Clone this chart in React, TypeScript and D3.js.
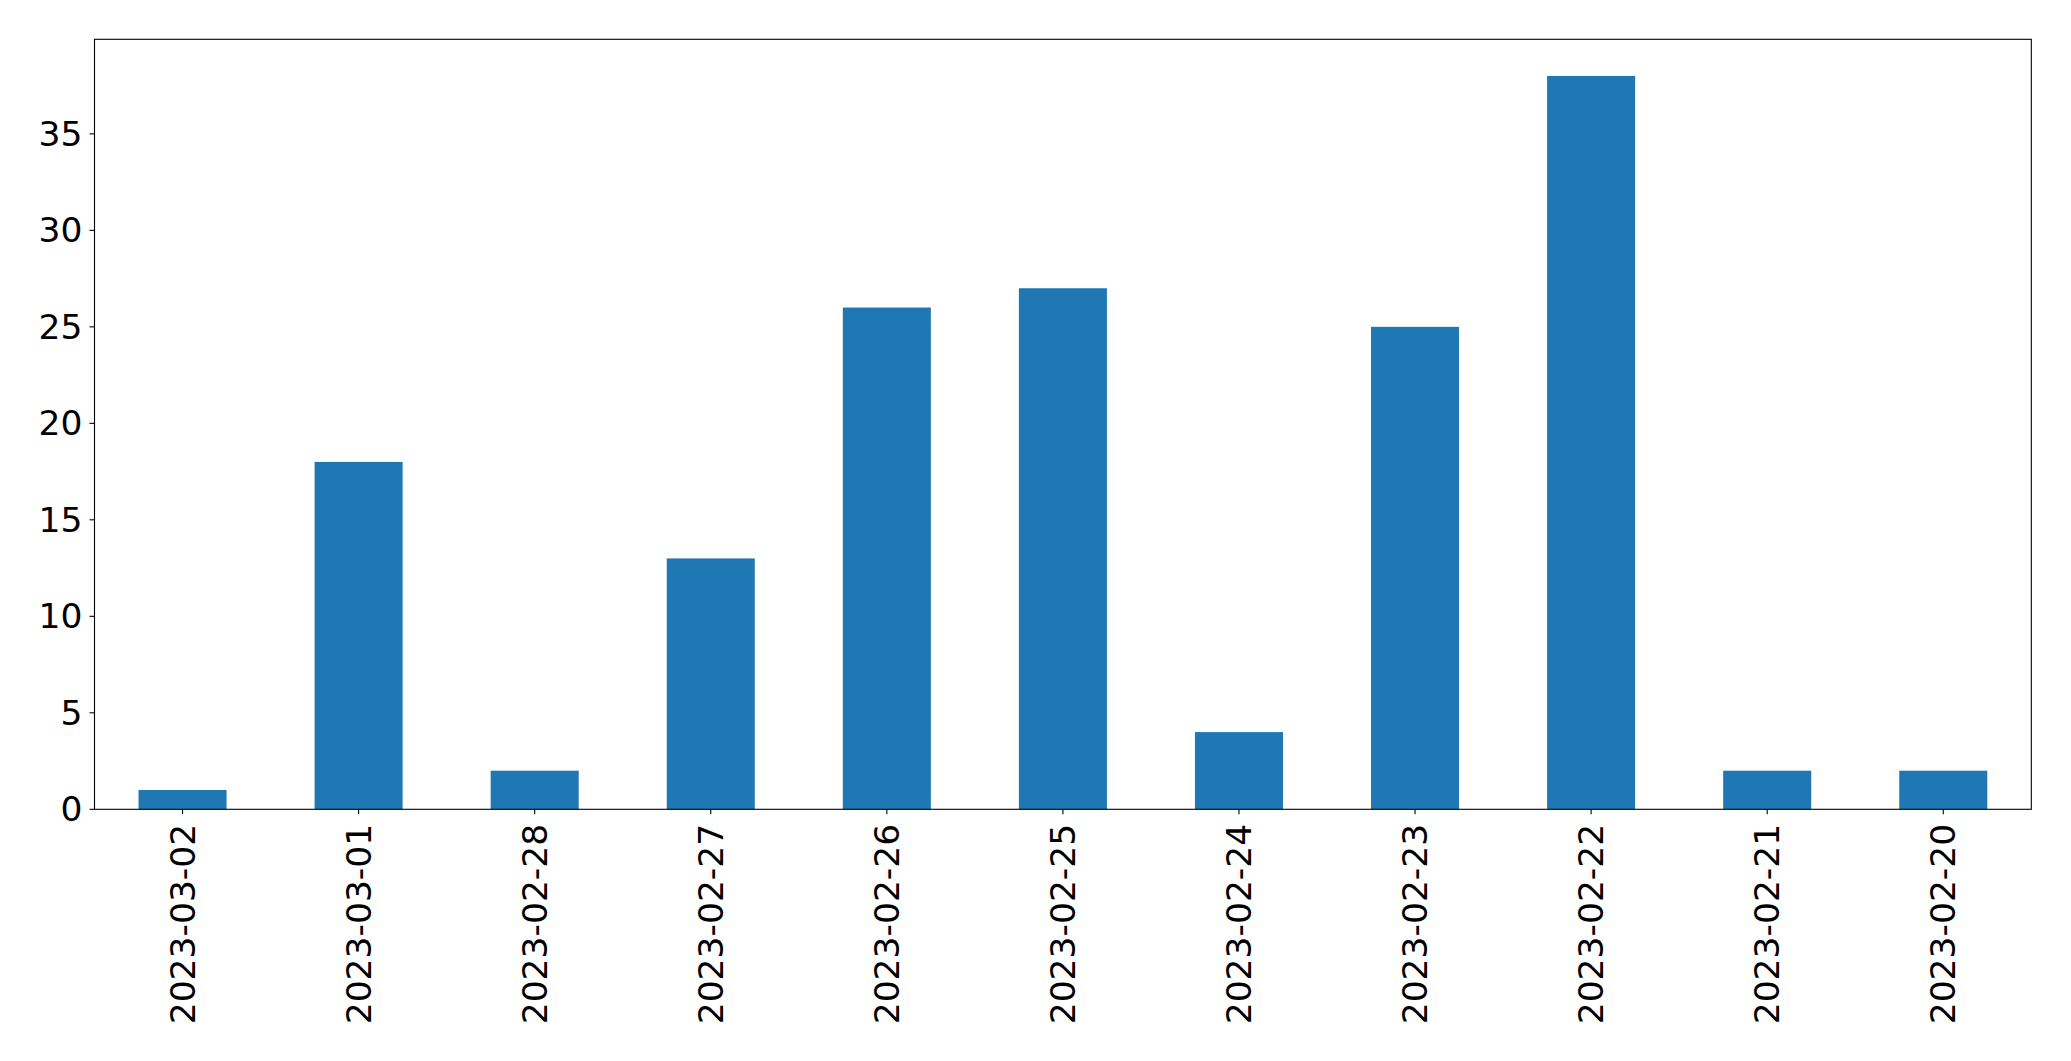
import React from "react";
import * as d3 from "d3";

const categories = ["2023-03-02","2023-03-01","2023-02-28","2023-02-27","2023-02-26","2023-02-25","2023-02-24","2023-02-23","2023-02-22","2023-02-21","2023-02-20"];
const values = [1, 18, 2, 13, 26, 27, 4, 25, 38, 2, 2];
const yTicks = [0, 5, 10, 15, 20, 25, 30, 35];

export default function App() {
  const W = 2071, H = 1061;
  const left = 94.5, right = 2031.3, top = 39.3, bottom = 809.3;
  const x = d3.scaleLinear().domain([-0.5, categories.length - 0.5]).range([left, right]);
  const y = d3.scaleLinear().domain([0, 38 * 1.05]).range([bottom, top]);
  const fs = 34.5;
  const font = "DejaVu Sans";
  return (
    <svg width={W} height={H} style={{ position: "absolute", left: 0, top: 0, background: "#fff" }}>
      <rect x={0} y={0} width={W} height={H} fill="#fff" />
      {values.map((v, i) => (
        <rect key={i} x={x(i - 0.25)} y={y(v)} width={x(i + 0.25) - x(i - 0.25)} height={y(0) - y(v)} fill="#1f77b4" />
      ))}
      <rect x={left} y={top} width={right - left} height={bottom - top} fill="none" stroke="#000" strokeWidth={1.1} />
      {yTicks.map((t) => (
        <g key={t}>
          <line x1={left - 5} x2={left} y1={y(t)} y2={y(t)} stroke="#000" strokeWidth={1.1} />
          <text x={left - 12} y={y(t)} textAnchor="end" dominantBaseline="central" fontFamily={font} fontSize={fs} fill="#000">{t}</text>
        </g>
      ))}
      {categories.map((c, i) => (
        <g key={c}>
          <line x1={x(i)} x2={x(i)} y1={bottom} y2={bottom + 5} stroke="#000" strokeWidth={1.1} />
          <text transform={`translate(${x(i)},${bottom + 14.5}) rotate(-90)`} textAnchor="end" dominantBaseline="central" fontFamily={font} fontSize={fs} fill="#000">{c}</text>
        </g>
      ))}
    </svg>
  );
}
